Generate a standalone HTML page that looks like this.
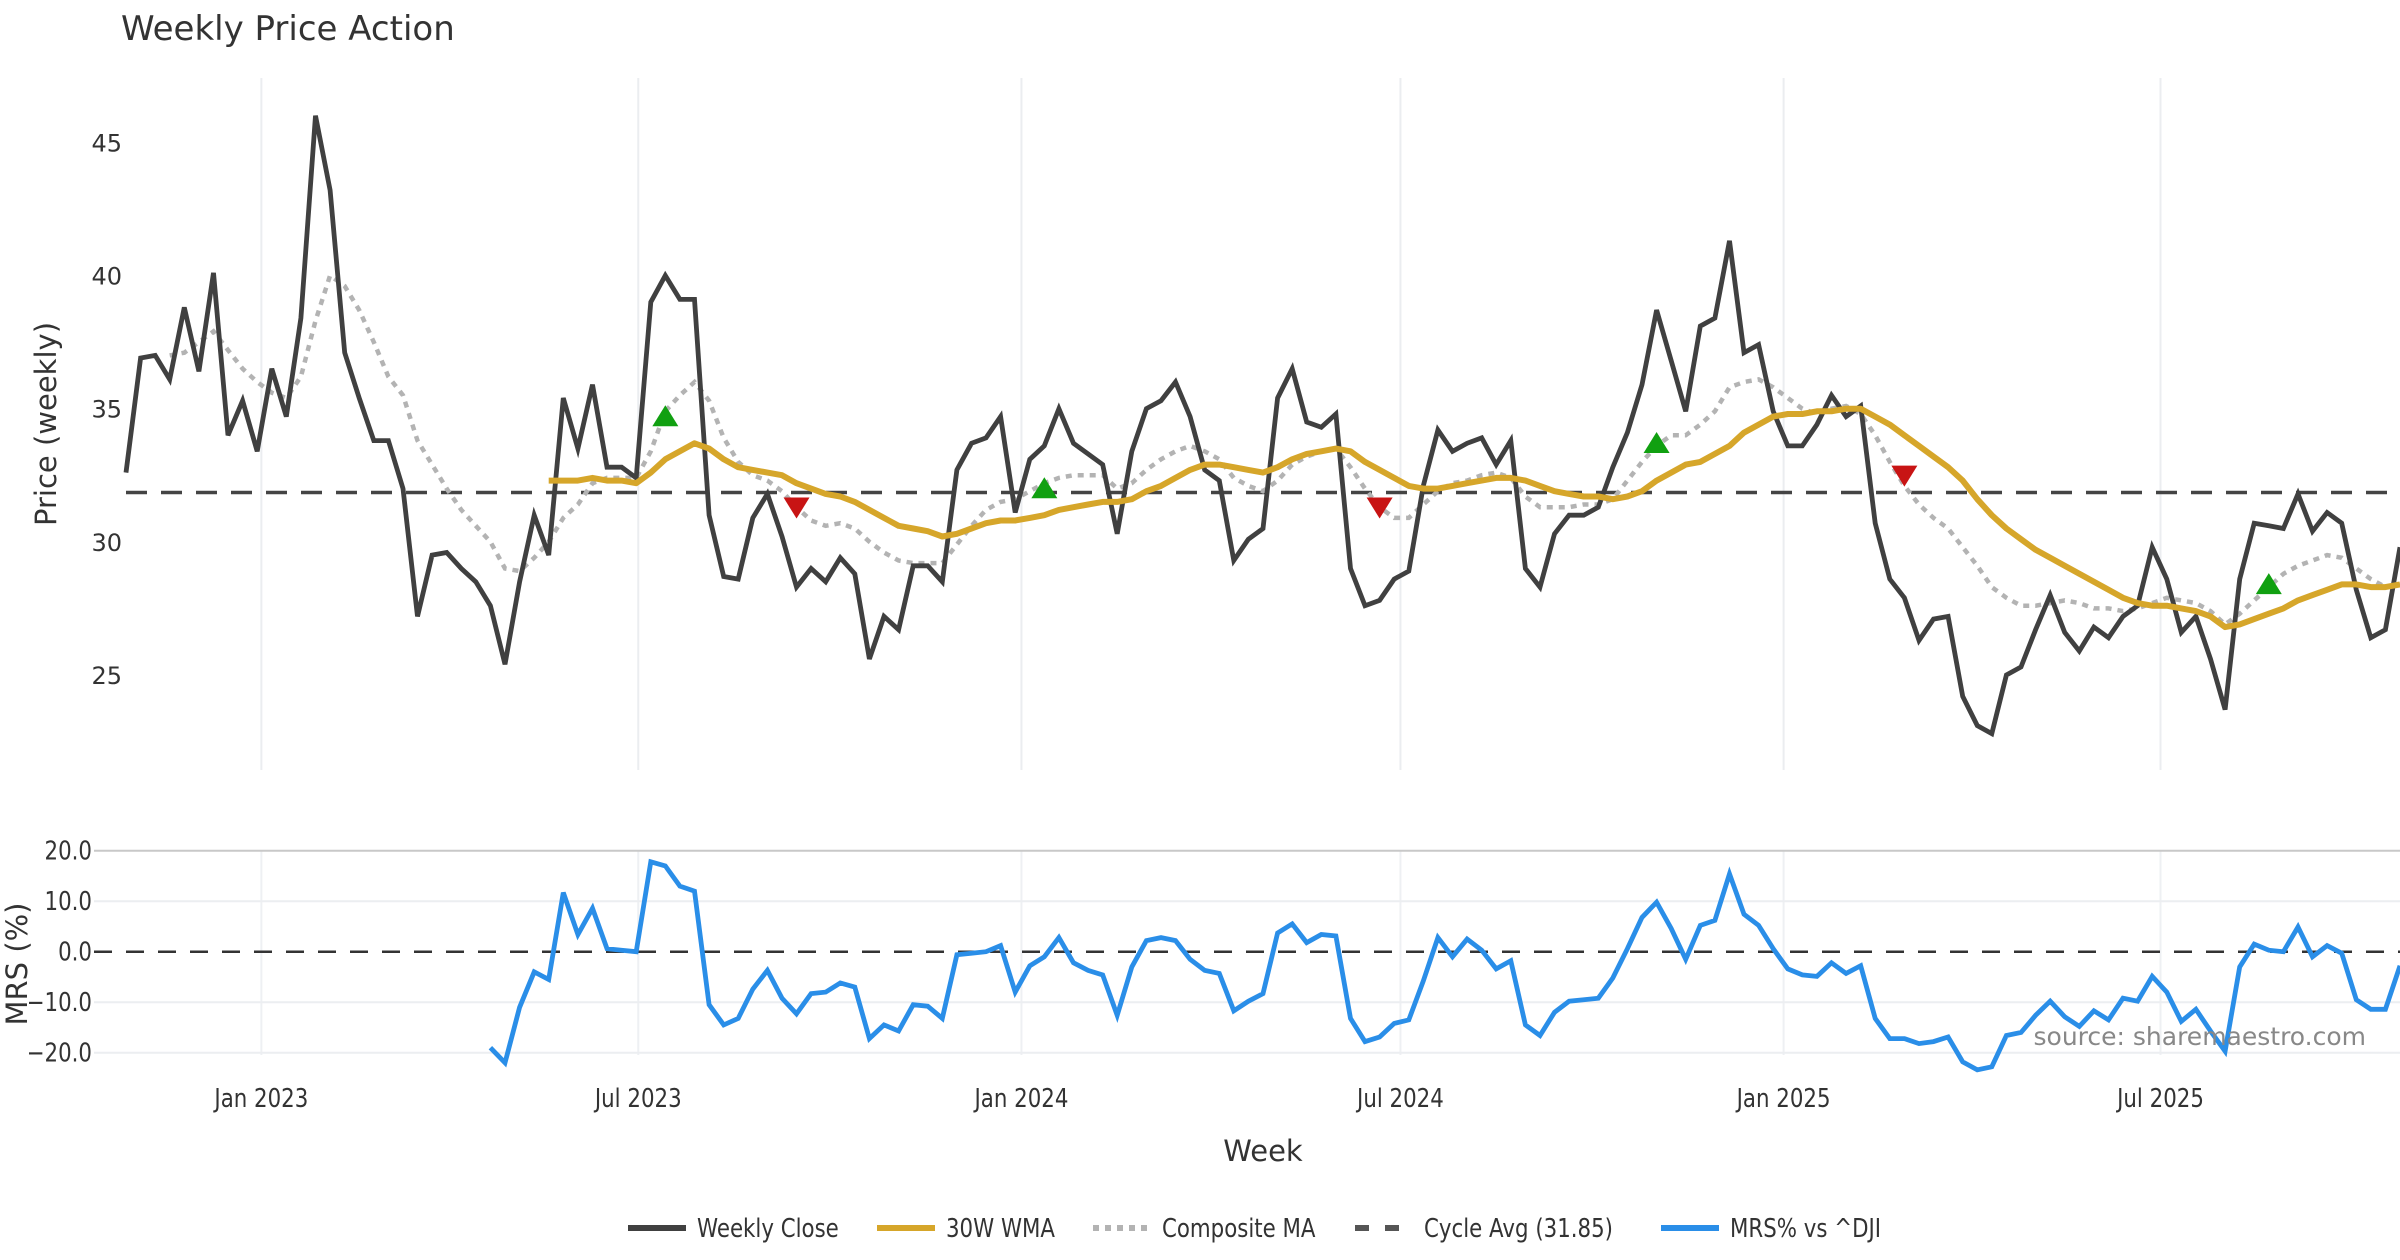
<!DOCTYPE html>
<html><head><meta charset="utf-8"><style>
html,body{margin:0;padding:0;background:#fff;}
svg{display:block;font-family:"DejaVu Sans","Liberation Sans",sans-serif;}
.tk{font-size:26px;fill:#333;}
.tp{font-size:24px;fill:#333;}
</style></head><body>
<svg id="chart" width="2400" height="1260" viewBox="0 0 2400 1260" xmlns="http://www.w3.org/2000/svg">
<text x="121" y="40" font-size="34" fill="#333">Weekly Price Action</text>
<g id="price"></g>
<g id="mrs"></g>
<text transform="translate(56,424) rotate(-90)" text-anchor="middle" font-size="29" fill="#333">Price (weekly)</text>
<text transform="translate(27,964) rotate(-90)" text-anchor="middle" font-size="29" fill="#333">MRS (%)</text>
<text x="1263" y="1161" text-anchor="middle" font-size="29" fill="#333">Week</text>
<text x="2366" y="1045" text-anchor="end" font-size="25" fill="#888">source: sharemaestro.com</text>
<g id="legend"></g>
</svg>
<script>
const closeVals=[32.6,36.9,37.0,36.1,38.8,36.4,40.1,34.0,35.3,33.4,36.5,34.7,38.4,46.0,43.2,37.1,35.4,33.8,33.8,32.0,27.2,29.5,29.6,29.0,28.5,27.6,25.4,28.5,31.0,29.5,35.4,33.5,35.9,32.8,32.8,32.4,39.0,40.0,39.1,39.1,31.0,28.7,28.6,30.9,31.8,30.2,28.3,29.0,28.5,29.4,28.8,25.6,27.2,26.7,29.1,29.1,28.5,32.7,33.7,33.9,34.7,31.1,33.1,33.6,35.0,33.7,33.3,32.9,30.3,33.4,35.0,35.3,36.0,34.7,32.7,32.3,29.3,30.1,30.5,35.4,36.5,34.5,34.3,34.8,29.0,27.6,27.8,28.6,28.9,32.1,34.2,33.4,33.7,33.9,32.9,33.8,29.0,28.3,30.3,31.0,31.0,31.3,32.8,34.1,35.9,38.7,36.8,34.9,38.1,38.4,41.3,37.1,37.4,34.9,33.6,33.6,34.4,35.5,34.7,35.1,30.7,28.6,27.9,26.3,27.1,27.2,24.2,23.1,22.8,25.0,25.3,26.7,28.0,26.6,25.9,26.8,26.4,27.2,27.6,29.8,28.6,26.6,27.2,25.6,23.7,28.6,30.7,30.6,30.5,31.8,30.4,31.1,30.7,28.2,26.4,26.7,29.8];
const wmaStart=29;
const wmaVals=[32.3,32.3,32.3,32.4,32.3,32.3,32.2,32.6,33.1,33.4,33.7,33.5,33.1,32.8,32.7,32.6,32.5,32.2,32.0,31.8,31.7,31.5,31.2,30.9,30.6,30.5,30.4,30.2,30.3,30.5,30.7,30.8,30.8,30.9,31.0,31.2,31.3,31.4,31.5,31.5,31.6,31.9,32.1,32.4,32.7,32.9,32.9,32.8,32.7,32.6,32.8,33.1,33.3,33.4,33.5,33.4,33.0,32.7,32.4,32.1,32.0,32.0,32.1,32.2,32.3,32.4,32.4,32.3,32.1,31.9,31.8,31.7,31.7,31.6,31.7,31.9,32.3,32.6,32.9,33.0,33.3,33.6,34.1,34.4,34.7,34.8,34.8,34.9,34.9,35.0,35.0,34.7,34.4,34.0,33.6,33.2,32.8,32.3,31.6,31.0,30.5,30.1,29.7,29.4,29.1,28.8,28.5,28.2,27.9,27.7,27.6,27.6,27.5,27.4,27.2,26.8,26.9,27.1,27.3,27.5,27.8,28.0,28.2,28.4,28.4,28.3,28.3,28.4];
const compStart=3;
const compVals=[37.0,37.1,37.5,37.9,37.2,36.5,36.0,35.6,35.4,36.2,38.3,40.0,39.6,38.7,37.5,36.2,35.5,33.8,32.9,32.0,31.2,30.6,30.0,29.0,28.9,29.4,30.0,30.9,31.4,32.2,32.4,32.4,32.4,33.4,34.9,35.5,36.0,35.3,33.9,33.0,32.5,32.3,31.9,31.3,30.8,30.6,30.7,30.5,30.0,29.6,29.3,29.2,29.2,29.2,29.9,30.6,31.2,31.5,31.6,31.9,32.2,32.4,32.5,32.5,32.5,32.0,32.2,32.7,33.1,33.4,33.6,33.4,33.1,32.4,32.1,31.9,32.3,32.9,33.2,33.4,33.5,32.8,32.0,31.3,30.9,30.9,31.4,31.9,32.2,32.3,32.5,32.6,32.4,31.7,31.3,31.3,31.3,31.4,31.4,31.6,32.3,33.0,33.6,34.0,34.0,34.4,34.9,35.8,36.0,36.1,35.8,35.4,35.0,34.8,35.0,35.1,34.8,34.0,33.0,32.1,31.4,30.9,30.5,29.8,29.1,28.3,27.9,27.6,27.6,27.7,27.8,27.7,27.5,27.5,27.4,27.5,27.7,27.9,27.8,27.7,27.4,26.9,27.3,27.8,28.3,28.8,29.1,29.3,29.5,29.4,29.0,28.6,28.3,28.4];
const mrsStart=25;
const mrsVals=[-19,-22,-11,-4,-5.5,11.7,3.4,8.6,0.6,0.3,0,17.8,17,13,12,-10.5,-14.5,-13.2,-7.4,-3.7,-9.2,-12.3,-8.3,-8,-6.2,-7,-17.2,-14.5,-15.7,-10.5,-10.8,-13.2,-0.6,-0.3,0,1.2,-8,-2.8,-1,2.8,-2.2,-3.7,-4.6,-12.6,-3,2.2,2.8,2.2,-1.5,-3.7,-4.3,-11.7,-9.8,-8.3,3.7,5.5,1.8,3.4,3.1,-13.2,-17.8,-16.9,-14.2,-13.5,-5.8,2.8,-1,2.5,0.3,-3.4,-1.8,-14.5,-16.6,-12,-9.8,-9.5,-9.2,-5.2,0.6,6.8,9.8,4.6,-1.5,5.2,6.2,15.4,7.4,5.2,0.6,-3.4,-4.6,-4.9,-2.2,-4.3,-2.8,-13.2,-17.2,-17.2,-18.2,-17.8,-16.9,-21.8,-23.4,-22.8,-16.6,-16,-12.6,-9.8,-12.9,-14.8,-11.7,-13.5,-9.2,-9.8,-4.9,-8,-13.8,-11.4,-15.7,-19.7,-3,1.5,0.3,0,4.9,-1,1.2,-0.3,-9.5,-11.4,-11.4,-2.8];
const buyIdx=[37,63,105,147];
const buyVals=[34.6,31.9,33.6,28.3];
const sellIdx=[46,86,122];
const sellVals=[31.4,31.4,32.6];
const cycleAvg=31.85;
const priceTicks=[25,30,35,40,45];
const mrsTicks=[-20,-10,0,10,20];
const mrsTickLabels=["\u221220.0","\u221210.0","0.0","10.0","20.0"];
const dateTicks=["2023-01-01","2023-07-01","2024-01-01","2024-07-01","2025-01-01","2025-07-01"];
const dateTickLabels=["Jan 2023","Jul 2023","Jan 2024","Jul 2024","Jan 2025","Jul 2025"];
const startDate="2022-10-28";

const NS="http://www.w3.org/2000/svg";
const X0=126,X1=2400,N=closeVals.length;
const t0=Date.parse(startDate);
function xi(i){return X0+i*(X1-X0)/(N-1);}
function xd(d){return xi((Date.parse(d)-t0)/(7*864e5));}
function yp(v){return 142.3+(45-v)*(675-142.3)/20;}
function ym(v){return 951.7-v*(101/20);}
function mk(tag,attrs,parent){const e=document.createElementNS(NS,tag);for(const k in attrs)e.setAttribute(k,attrs[k]);parent.appendChild(e);return e;}
function condense(t){const w=t.getComputedTextLength();if(w>0){t.setAttribute('textLength',(w*0.82).toFixed(1));t.setAttribute('lengthAdjust','spacingAndGlyphs');}}
const P=document.getElementById('price'),M=document.getElementById('mrs'),L=document.getElementById('legend');

dateTicks.forEach((d,k)=>{
  const g=mk('line',{x1:xd(d),x2:xd(d),y1:78,y2:770,stroke:'#ebedf0','stroke-width':2},P);
  
  
  const g2=mk('line',{x1:xd(d),x2:xd(d),y1:850,y2:1055,stroke:'#eef0f3','stroke-width':2},M);
  
  
  const t=mk('text',{x:xd(d),y:1107,'text-anchor':'middle',class:'tk'},M);t.textContent=dateTickLabels[k];
  
  
  condense(t);
});
priceTicks.forEach(v=>{
  const t=mk('text',{x:122,y:yp(v)+9,'text-anchor':'end',class:'tp'},P);t.textContent=v;
  
  
});
mrsTicks.forEach((v,k)=>{
  if(v!==0){const g=mk('line',{x1:94,x2:2400,y1:ym(v),y2:ym(v),stroke:v===20?'#c8c8c8':'#eceef1','stroke-width':2},M);
  
  }
  const t=mk('text',{x:92,y:ym(v)+9,'text-anchor':'end',class:'tk'},M);t.textContent=mrsTickLabels[k];
  
  
  condense(t);
});
function pts(vals,start,yf){return vals.map((v,j)=>xi(start+j).toFixed(1)+','+yf(v).toFixed(1)).join(' ');}

const cyc=mk('line',{x1:X0,x2:X1,y1:yp(cycleAvg),y2:yp(cycleAvg),stroke:'#444','stroke-width':3.5,'stroke-dasharray':'21 14'},P);


const comp=mk('polyline',{points:pts(compVals,compStart,yp),fill:'none',stroke:'#b3b3b3','stroke-width':4.5,'stroke-dasharray':'6 6'},P);


const cl=mk('polyline',{points:pts(closeVals,0,yp),fill:'none',stroke:'#404040','stroke-width':4.8,'stroke-linejoin':'miter'},P);


const wm=mk('polyline',{points:pts(wmaVals,wmaStart,yp),fill:'none',stroke:'#d6a62a','stroke-width':6,'stroke-linejoin':'round'},P);


buyIdx.forEach((i,k)=>{const x=xi(i),y=yp(buyVals[k]);
  const t=mk('polygon',{points:`${x-13},${y+7} ${x+13},${y+7} ${x},${y-14}`,fill:'#11a011'},P);
  
  });
sellIdx.forEach((i,k)=>{const x=xi(i),y=yp(sellVals[k]);
  const t=mk('polygon',{points:`${x-13},${y-7} ${x+13},${y-7} ${x},${y+14}`,fill:'#c81414'},P);
  
  });

const z=mk('line',{x1:94,x2:2400,y1:ym(0),y2:ym(0),stroke:'#333','stroke-width':2.5,'stroke-dasharray':'18 14'},M);


const ml=mk('polyline',{points:pts(mrsVals,mrsStart,ym),fill:'none',stroke:'#2a8ee8','stroke-width':4.8},M);



const legendItems=[
 {x:628,label:'Weekly Close',stroke:'#404040',dash:''},
 {x:877,label:'30W WMA',stroke:'#d6a62a',dash:''},
 {x:1093,label:'Composite MA',stroke:'#b3b3b3',dash:'6 6'},
 {x:1355,label:'Cycle Avg (31.85)',stroke:'#555',dash:'14 16'},
 {x:1661,label:'MRS% vs ^DJI',stroke:'#2a8ee8',dash:''}];
legendItems.forEach(it=>{
  const g=mk('g',{},L);
  
  
  mk('line',{x1:it.x,x2:it.x+58,y1:1228,y2:1228,stroke:it.stroke,'stroke-width':6,'stroke-dasharray':it.dash},g);
  const t=mk('text',{x:it.x+69,y:1237,class:'tk'},g);t.textContent=it.label;
  condense(t);
});
</script>
</body></html>
